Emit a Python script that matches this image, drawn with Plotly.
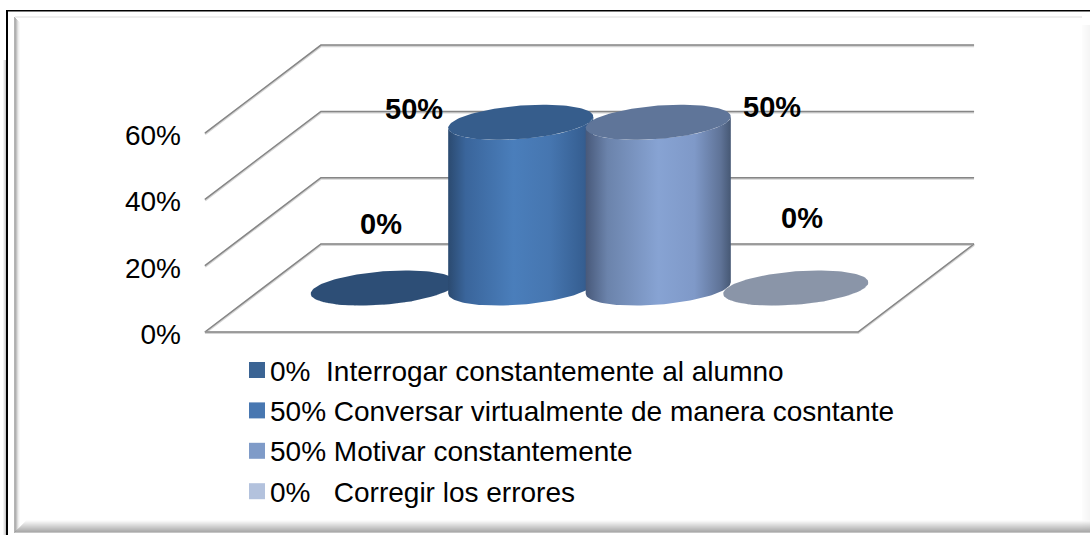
import numpy as np
import plotly.graph_objects as go

# Datos de la grafica
series_names = ["Interrogar constantemente al alumno", "Conversar virtualmente de manera cosntante",
                "Motivar constantemente", "Corregir los errores"]
values = [0, 50, 50, 0]
legend_gaps = ["\u00a0\u00a0", " ", " ", "\u00a0\u00a0\u00a0"]
y_ticks = [0, 20, 40, 60]

# Colores de cada cilindro
top_colors = ["#2d4e76", "#365d8c", "#5f7599", "#8a95a8"]
legend_colors = ["#3b6494", "#4877b1", "#7f9bc8", "#b3c2dd"]
body_scales = [
    [[0, "#2d4e76"], [1, "#2d4e76"]],
    [[0, "#2b4a70"], [0.12, "#3a659b"], [0.45, "#4a7ebb"], [0.7, "#4676b0"], [0.93, "#365f92"], [1, "#2f5280"]],
    [[0, "#48597a"], [0.15, "#6b83ab"], [0.5, "#87a3d3"], [0.75, "#7f99c8"], [0.93, "#5f7397"], [1, "#465874"]],
    [[0, "#8a95a8"], [1, "#8a95a8"]],
]

W, H = 1090, 535
PX_SLOT = 137.5   # pixeles por cilindro
PX_PCT = 3.315    # pixeles por punto porcentual
X0, Y0 = 531.5, 332
DX, DY = 116 / PX_SLOT, 88 / PX_PCT   # desplazamiento oblicuo de la profundidad
HALF = 2.375
R, RD = 0.5, 0.2
GRAY = "#868686"
FONT = "Liberation Sans"


def project(slot, depth, value):
    return slot + depth * DX, value + depth * DY


def arc(slot, value, thetas):
    return project(slot + R * np.cos(thetas), 0.5 + RD * np.sin(thetas), value)


fig = go.Figure()

# Paredes y piso
for v in y_ticks:
    xs, ys = project(np.array([-HALF, -HALF, HALF]), np.array([0, 1, 1]), v)
    fig.add_trace(go.Scatter(x=xs, y=ys - 0.25, mode="lines", line=dict(color="#d4d4d4", width=2.5), hoverinfo="skip"))
    fig.add_trace(go.Scatter(x=xs, y=ys, mode="lines", line=dict(color=GRAY, width=1.5), hoverinfo="skip"))
xs, ys = project(np.array([-HALF, HALF, HALF]), np.array([0, 0, 1]), 0)
fig.add_trace(go.Scatter(x=xs, y=ys - 0.25, mode="lines", line=dict(color="#d4d4d4", width=2.5), hoverinfo="skip"))
fig.add_trace(go.Scatter(x=xs, y=ys, mode="lines", line=dict(color=GRAY, width=1.5), hoverinfo="skip"))

# Cilindros
t0 = np.arctan(RD * DX / R)
front = np.linspace(t0 + np.pi, t0 + 2 * np.pi, 60)
full = np.linspace(0, 2 * np.pi, 120)
for i, (name, v) in enumerate(zip(series_names, values)):
    slot = i - 1.5
    bx, by = arc(slot, 0, front)
    tx, ty = arc(slot, v, front[::-1])
    fig.add_trace(go.Scatter(x=np.r_[bx, tx], y=np.r_[by, ty], mode="lines", fill="toself", name=name,
                             line=dict(width=0), fillgradient=dict(type="horizontal", colorscale=body_scales[i]),
                             hoverinfo="skip"))
    ex, ey = arc(slot, v, full)
    fig.add_trace(go.Scatter(x=ex, y=ey, mode="lines", fill="toself", name=name, line=dict(width=0),
                             fillcolor=top_colors[i], hoverinfo="skip"))


def box(x0, y0, x1, y1, color):
    fig.add_shape(type="rect", xref="paper", yref="paper", x0=x0 / W, x1=x1 / W, y0=1 - y0 / H, y1=1 - y1 / H,
                  fillcolor=color, line_width=0, layer="below")


# Marco de la imagen
box(7, 10, W, 11.5, "#000000")
box(6, 10, 8, H, "#000000")
for k, c in enumerate(["#f2f2f2", "#e0e0e0", "#cccccc"]):
    box(3 + k, 60, 4 + k, H, c)
box(15, 16, W - 8, 18, "#eeeeee")
for k, c in enumerate(["#b4b4b4", "#b0b0b0", "#c4c4c4", "#dcdcdc", "#eeeeee", "#f8f8f8"]):
    box(14 + k, 17 + k, 15 + k, 533 - k, c)
for k in range(8):
    box(1082 + k, 25, 1083 + k, 530, f"rgb({252 - k},{252 - k},{252 - k})")
for k in range(12):
    g = 250 - k * 10
    box(14 + (12 - k), 520.5 + k, W, 521.5 + k, f"rgb({g},{g},{g})")

# Etiquetas de datos
label_px = [(381, 224), (414, 109), (772, 107), (802, 218)]
for v, (px, py) in zip(values, label_px):
    fig.add_annotation(text=f"{v}%", xref="paper", yref="paper", x=px / W, y=1 - py / H, showarrow=False,
                       xanchor="center", yanchor="middle", borderpad=0,
                       font=dict(family=FONT, size=29, color="#000000", weight="bold"))

# Leyenda
for i, (name, v) in enumerate(zip(series_names, values)):
    cy = 370 + 40.4 * i
    box(249, cy - 8, 265, cy + 8, legend_colors[i])
    fig.add_annotation(text=f"{v}%{legend_gaps[i]}{name}", xref="paper", yref="paper", x=269 / W, y=1 - (cy + 1) / H,
                       showarrow=False, xanchor="left", yanchor="middle", borderpad=0,
                       font=dict(family=FONT, size=28, color="#000000"))

fig.update_layout(
    width=W, height=H, margin=dict(l=0, r=0, t=0, b=0), showlegend=False,
    paper_bgcolor="#ffffff", plot_bgcolor="rgba(0,0,0,0)",
    xaxis=dict(visible=False, range=[-X0 / PX_SLOT, (W - X0) / PX_SLOT]),
    yaxis=dict(range=[(Y0 - H) / PX_PCT, Y0 / PX_PCT], anchor="free", position=205 / W,
               tickvals=y_ticks, ticktext=[f"{v}%" for v in y_ticks],
               showgrid=False, zeroline=False, showline=False, ticks="",
               ticklabelstandoff=24, ticklabelshift=2,
               tickfont=dict(family=FONT, size=28, color="#000000")),
)

fig.write_html("out.html", config=dict(displayModeBar=False), post_script="document.body.style.margin='0';")
